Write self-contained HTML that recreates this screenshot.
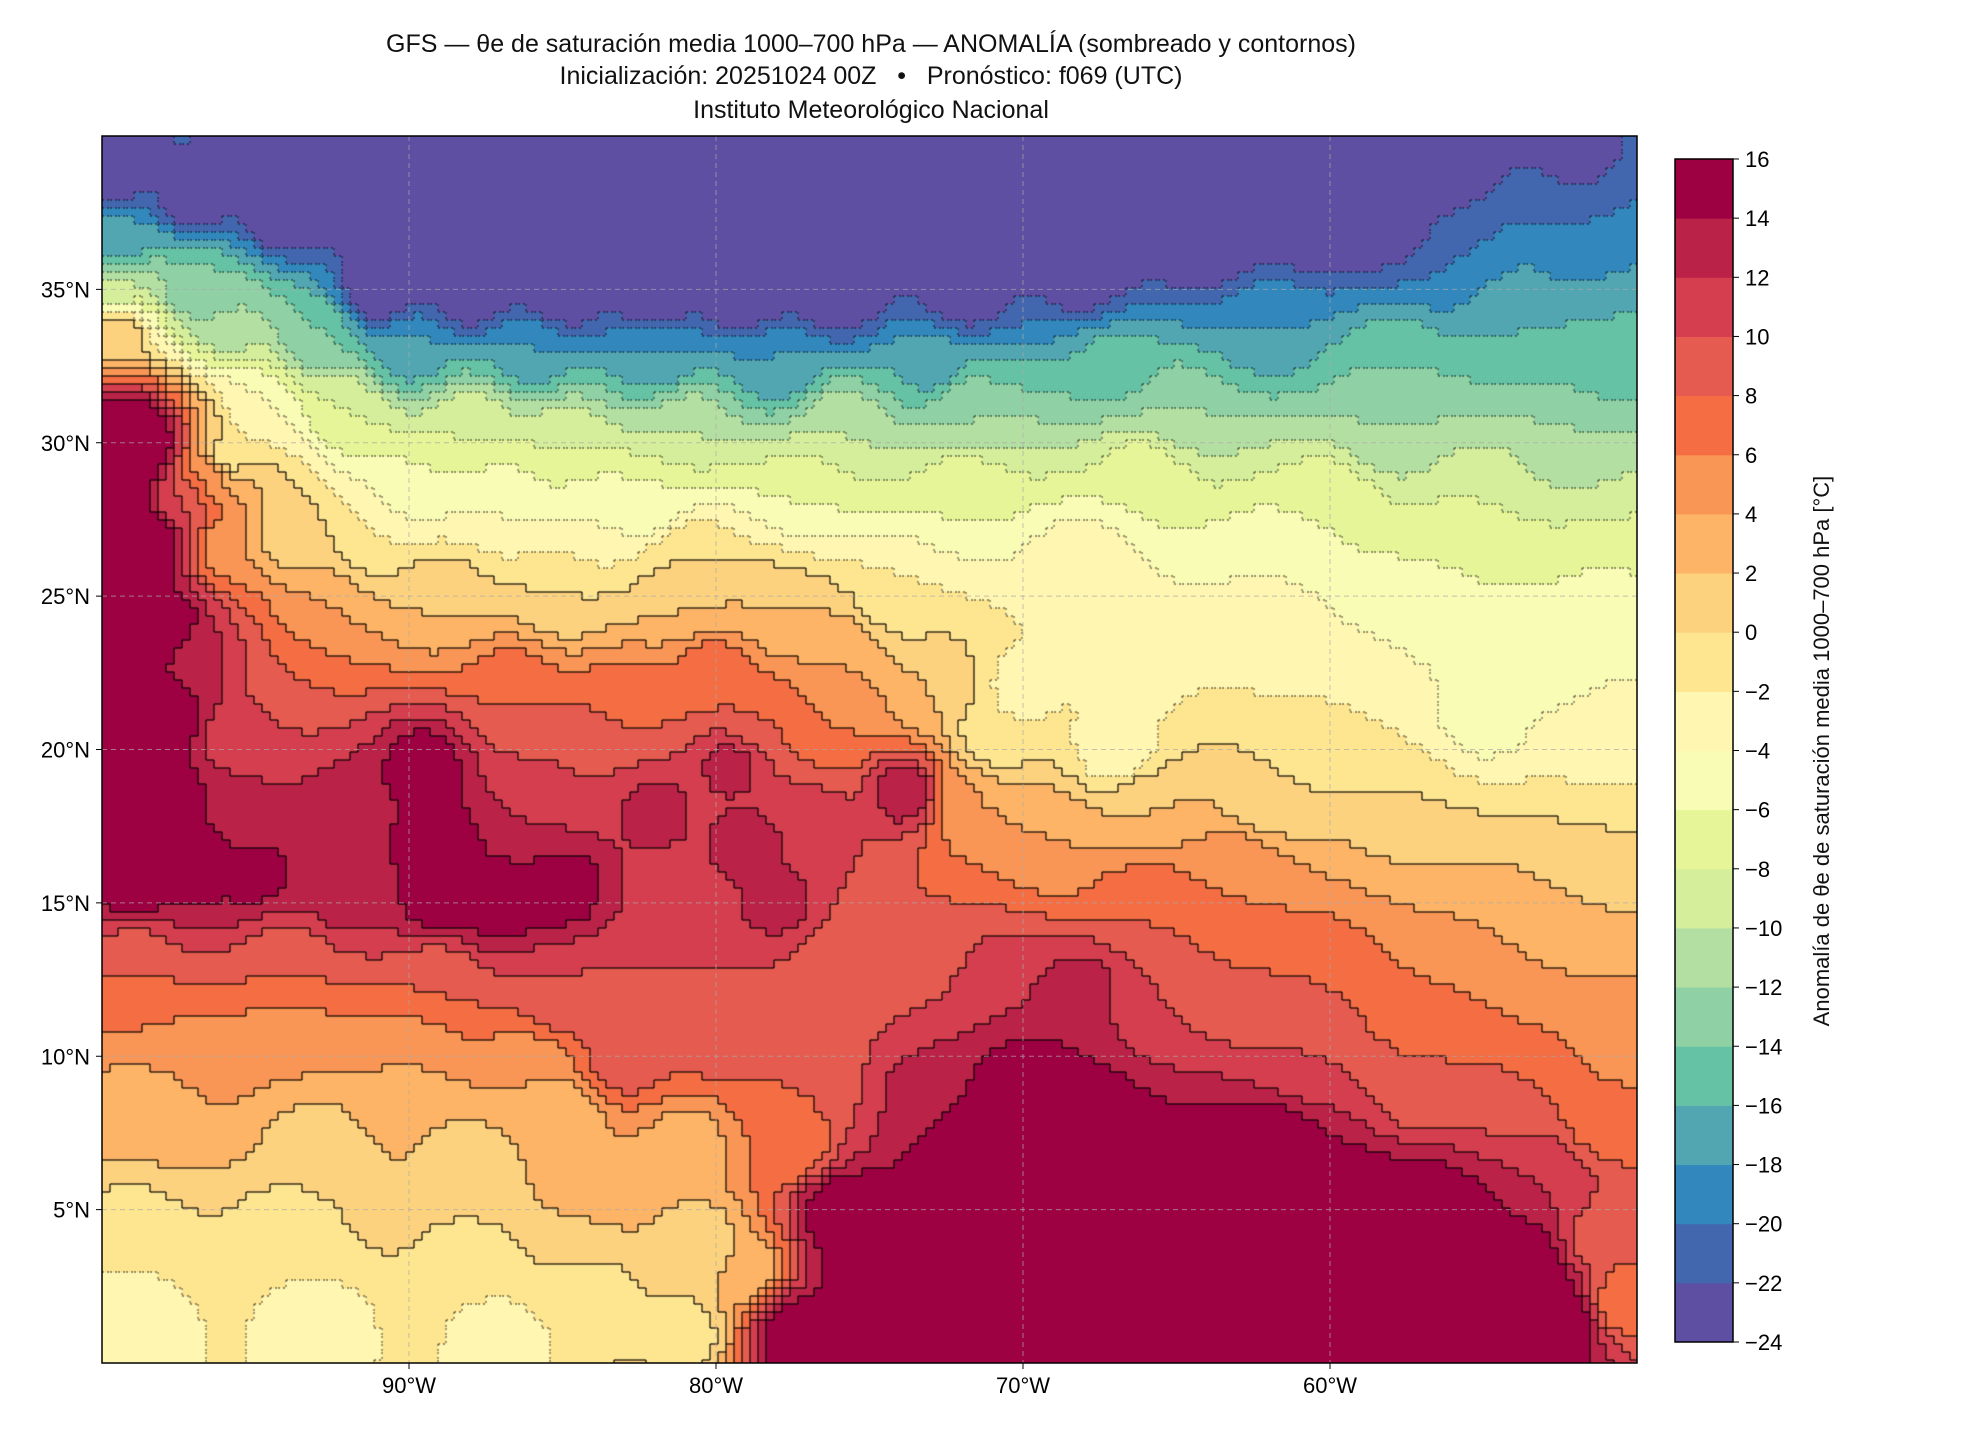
<!DOCTYPE html>
<html><head><meta charset="utf-8"><style>
body{margin:0;background:#fff;width:1980px;height:1440px;position:relative;overflow:hidden;font-family:"Liberation Sans","DejaVu Sans",sans-serif;color:#111}
.t{position:absolute;left:0;width:1742px;text-align:center;font-size:25px;line-height:25px}
canvas{position:absolute}
</style></head><body>
<div class="t" style="top:32px">GFS — θe de saturación media 1000–700 hPa — ANOMALÍA (sombreado y contornos)</div>
<div class="t" style="top:64px">Inicialización: 20251024 00Z &nbsp; • &nbsp; Pronóstico: f069 (UTC)</div>
<div class="t" style="top:98px">Instituto Meteorológico Nacional</div>
<canvas id="m" width="1535" height="1227" style="left:102px;top:136px"></canvas>
<svg width="1980" height="1440" style="position:absolute;left:0;top:0" id="ov"></svg>
<div style="position:absolute;left:1822px;top:751px;width:0;height:0">
<div style="position:absolute;transform:translate(-50%,-50%) rotate(-90deg);white-space:nowrap;font-size:22px">Anomalía de θe de saturación media 1000–700 hPa [°C]</div></div>
<script>
const cols=['#5e4fa2','#4367ae','#3288bd','#51a6b1','#66c2a5','#8fd1a4','#b3e0a2','#d5ee9b','#e6f598','#f8fcb5','#fff6b1','#fee691','#fdd27f','#fdb466','#f99555','#f46d43','#e65b4f','#d53e4f','#bb2248','#9e0142'];
function band(v){let i=Math.floor((v+24)/2);if(i<0)i=0;if(i>19)i=19;return i;}
const P=[];
for(let lo=-94;lo<=-58;lo+=3){P.push([lo,39.5,-26]);P.push([lo,37.5,-26]);}
for(let lo=-91;lo<=-74;lo+=3)P.push([lo,35,-26]);
for(let la=17;la<=31;la+=1.5)P.push([-99.3,la,18]);
for(let lo=-74;lo<=-54;lo+=2.5){P.push([lo,0.5,18]);P.push([lo,3,18]);}
P.push([-72,35,-25],[-68,35.5,-24],[-64,36.5,-24],[-60,37.5,-23],[-56,39.5,-24],[-52,39.5,-23]);
P.push(
[-99.5,39,-25],[-97,38,-25],[-99.5,36.5,-18],[-99.5,35,-10],[-99.5,33.7,2],[-97,35,-14],[-96,34,-12],[-93,33.5,-14],[-90,33,-18],[-86,33,-18],[-82,32.8,-18],[-78,32.5,-18],[-73,32.5,-17],[-67,32.5,-15],[-62,34,-18],[-56,36,-20],[-52,37,-20],[-54,34,-16],[-51,33,-16],[-58,32.5,-14],
[-92,31,-8],[-88,30.5,-8],[-85,30,-8],[-81,30.5,-10],[-76,30.5,-10],[-72,31,-12],[-65,31,-12],[-58,30.5,-12],[-52,30,-12],[-51,27,-8],[-55,28,-8],[-60,28,-6],[-66,29,-6],[-72,28.5,-6],[-77,28.5,-6],[-82,28,-6],[-95,31,-4],[-96,29.5,-2],
[-90,28.5,-6],[-87,28,-4],[-84,27.5,-4],[-81,26.5,0],[-91,27,-2],[-94,27,0],[-96,26.5,4],[-97.5,28,10],[-98.5,30,17],[-98.5,27,17],[-98,24,17],[-97.5,21,16],[-98,18,17],[-96.5,29,6],
[-93,24.5,4],[-89,25,2],[-85,25,0],[-81,25,2],[-78,24.5,2],[-76,23,4],[-73,22,2],[-70,22,-3],[-66,23,-3],[-62,24,-3],[-57,24,-4],[-53,23,-5],[-51,25,-5],[-55,21,-5],[-51,20,-3],[-60,20.5,-2],[-67,20,-4],[-71,20.5,-2],[-74,25,-2],[-68,26,-2],[-62,26,-4],[-56,26,-6],
[-94,22.5,8],[-96,20.5,10],[-97,23,12],[-95.5,18,12],[-89.5,19.5,16],[-89,17,16],[-91.5,18,14],[-86.5,22,8],[-85,20,10],[-83,21.5,8],[-80,22.5,8],[-78.5,21,8],[-76,21,6],[-73.8,18.6,14],[-72,18.2,4],[-69,17,4],[-66,18,2],[-62,18.5,0],[-57,17.5,0],[-51,17,0],[-52,15,2],[-57,15,4],[-63,16,6],[-66,15,8],
[-86,18,12],[-82,18,13],[-79,17,13],[-79.5,19.5,13],[-77,17.5,12],[-78,15,13],[-81,15,12],[-85,15.5,16],[-87,15,16],[-89,15.2,16],[-92,15.5,14],[-95,16,15],[-97,16.5,16],[-99,16,16],[-99,13,8],[-94,13,8],[-89,12.5,8],[-85,12,10],
[-99,11,6],[-94,10.5,4],[-90,10,4],[-86,9.5,4],[-83,10,10],[-80,11,10],[-76,13,8],[-73,13.5,8],[-71,12.5,12],[-68,12,14],[-66,12,10],[-63,12.5,8],[-60,12.5,8],[-57,12,6],[-53,13,4],[-50.5,11,4],[-51,8,6],[-54,9,8],[-57,9,8],[-61,10,10],
[-99,8.5,2],[-93,7,0],[-88,6.5,0],[-84,5,2],[-81,7,2],[-80.5,4,0],[-79,3,2],[-77.5,7,6],[-76,5,17],[-75,2,17],[-73,9,14],[-70,9,17],[-68,8,17],[-65,6,17],[-62,7,17],[-60,5,17],[-57,5,17],[-55,3,17],[-53,6,12],[-51,4,8],[-50.5,2,6],[-52.5,1.5,17],[-70,3,17],[-65,1,17],[-60,1,17],[-72,6,17],[-67,4,17],[-63,3,17],[-77,9.5,8],[-74,11.5,10],
[-99,4,-2],[-94,4,-2],[-88,3,-2],[-84,2,-2],[-81,1,-2],[-99,1,-4],[-93,1,-4],[-87,0.5,-4],[-77.5,1,17],[-97,9.5,4],[-90,8,2],[-85,8,2]);
const c=document.getElementById('m'),x=c.getContext('2d');
const W=1535,H=1227,cs=8,nx=Math.ceil(W/cs),ny=Math.ceil(H/cs);
const B=[];
for(let j=0;j<ny;j++){B.push([]);for(let i=0;i<nx;i++){
 const px=i*cs,py=j*cs;const lon=-100+50*(px+cs/2)/W,lat=40-40*(py+cs/2)/H;
 let s=0,w=0;
 for(const p of P){const dx=p[0]-lon,dy=p[1]-lat,d=dx*dx+dy*dy+0.1;const k=1/(d*Math.sqrt(d));s+=k*p[2];w+=k;}
 const b=band(s/w);B[j].push(b);x.fillStyle=cols[b];x.fillRect(px,py,cs,cs);}}
x.lineWidth=1.3;
for(let j=0;j<ny;j++)for(let i=0;i<nx;i++){const b=B[j][i];
 if(i+1<nx&&B[j][i+1]!=b){const m=Math.max(b,B[j][i+1]);if(m>0){x.strokeStyle=m>=12?'rgba(0,0,0,0.9)':'rgba(0,0,0,0.55)';x.setLineDash(m>=12?[]:[2,3]);x.beginPath();x.moveTo((i+1)*cs,j*cs);x.lineTo((i+1)*cs,(j+1)*cs);x.stroke();}}
 if(j+1<ny&&B[j+1][i]!=b){const m=Math.max(b,B[j+1][i]);if(m>0){x.strokeStyle=m>=12?'rgba(0,0,0,0.9)':'rgba(0,0,0,0.55)';x.setLineDash(m>=12?[]:[2,3]);x.beginPath();x.moveTo(i*cs,(j+1)*cs);x.lineTo((i+1)*cs,(j+1)*cs);x.stroke();}}}
x.setLineDash([]);
const ns='http://www.w3.org/2000/svg',sv=document.getElementById('ov');
function el(t,a,txt){const e=document.createElementNS(ns,t);for(const k in a)e.setAttribute(k,a[k]);if(txt!==undefined)e.textContent=txt;sv.appendChild(e);return e;}
const L=102,R=1637,T=136,Bt=1363;
[-90,-80,-70,-60].forEach((lo,i)=>{const X=L+(lo+100)/50*(R-L);el('line',{x1:X,y1:T,x2:X,y2:Bt,stroke:'#aaa','stroke-width':1,'stroke-dasharray':'5,4',opacity:.7});
 el('line',{x1:X,y1:Bt,x2:X,y2:Bt+6,stroke:'#000'});el('text',{x:X,y:Bt+30,'text-anchor':'middle','font-size':22,'font-family':'Liberation Sans'},(90-i*10)+'°W');});
[5,10,15,20,25,30,35].forEach(la=>{const Y=Bt-la/40*(Bt-T);el('line',{x1:L,y1:Y,x2:R,y2:Y,stroke:'#aaa','stroke-width':1,'stroke-dasharray':'5,4',opacity:.7});
 el('line',{x1:L-6,y1:Y,x2:L,y2:Y,stroke:'#000'});el('text',{x:L-12,y:Y+8,'text-anchor':'end','font-size':22,'font-family':'Liberation Sans'},la+'°N');});
el('rect',{x:L,y:T,width:R-L,height:Bt-T,fill:'none',stroke:'#000','stroke-width':1.5});
const cx=1675,cw=58,ct=159,cb=1342,st=(cb-ct)/20;
for(let i=0;i<20;i++)el('rect',{x:cx,y:cb-(i+1)*st,width:cw,height:st+0.5,fill:cols[i]});
el('rect',{x:cx,y:ct,width:cw,height:cb-ct,fill:'none',stroke:'#000','stroke-width':1.5});
for(let i=0;i<=20;i++){const v=-24+2*i,Y=cb-i*st;el('line',{x1:cx+cw,y1:Y,x2:cx+cw+6,y2:Y,stroke:'#000'});
 el('text',{x:cx+cw+12,y:Y+8,'font-size':22,'font-family':'Liberation Sans'},v<0?'\u2212'+(-v):''+v);}
</script>
</body></html>
